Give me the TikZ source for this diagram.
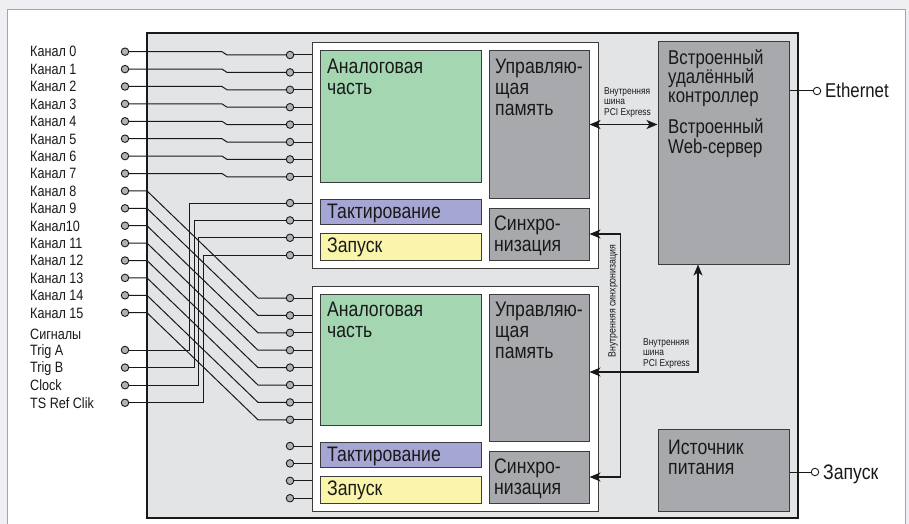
\documentclass[tikz,border=0pt]{standalone}
\usepackage{fontspec}
\setmainfont[FakeStretch=0.84]{Liberation Sans}
\usetikzlibrary{arrows.meta, positioning, calc, fit}

\definecolor{pagebg}{RGB}{238,238,243}
\definecolor{boardbg}{RGB}{227,228,230}
\definecolor{inkc}{RGB}{25,25,25}
\definecolor{analogc}{RGB}{163,214,177}
\definecolor{memc}{RGB}{168,169,172}
\definecolor{clkc}{RGB}{166,166,212}
\definecolor{trigc}{RGB}{250,245,170}
\definecolor{jackc}{RGB}{178,178,182}

\tikzset{
  jack/.style={circle, draw=inkc, fill=jackc, line width=0.9pt, minimum size=7.5pt, inner sep=0pt},
  wire/.style={draw=inkc, line width=1pt},
  blk/.style={draw=inkc!85, line width=1pt, inner sep=0pt},
  bus/.style={draw=inkc, line width=1.4pt, >={Stealth[length=11pt,width=9pt,inset=3pt]}, <->},
  chlbl/.style={anchor=base west, inner sep=0pt, text=inkc, font=\fontsize{15}{16}\selectfont},
  boxtxt/.style={anchor=north west, inner sep=0pt, align=left, text=inkc, font=\fontsize{21}{21}\selectfont},
  smalltxt/.style={anchor=north west, inner sep=0pt, align=left, text=inkc, font=\fontsize{10}{10.7}\selectfont},
}

\begin{document}
\begin{tikzpicture}[x=1pt, y=-1pt]
  \useasboundingbox (0,0) rectangle (909,524);
  \fill[pagebg] (0,0) rectangle (909,524);
  \fill[white] (7,10) rectangle (905,524);
  \draw[gray!70, line width=1pt] (7,524) -- (7,10) -- (905,10) -- (905,524);

  \node[fit={(147,33) (798,518)}, draw=inkc, fill=boardbg, line width=1.2pt, inner sep=0pt] (board) {};

  \foreach \m/\o in {1/0, 2/243} {
    \node[blk, fill=white, fit={(312,43+\o) (598,268+\o)}] (mod\m) {};
    \node[blk, fill=analogc, fit={(320,51+\o) (481,182+\o)}] (an\m) {};
    \node[boxtxt] (ant\m) at (327,59+\o) {Аналоговая\\часть};
    \node[blk, fill=memc, fit={(489,51+\o) (589,198+\o)}] (mem\m) {};
    \node[boxtxt] (memt\m) at (495,59+\o) {Управляю-\\щая\\память};
    \node[blk, fill=clkc, fit={(320,199+\o) (481,224+\o)}] (clk\m) {};
    \node[boxtxt] (clkt\m) at (327,204+\o) {Тактирование};
    \node[blk, fill=trigc, fit={(320,233+\o) (481,260+\o)}] (trg\m) {};
    \node[boxtxt] (trgt\m) at (327,238+\o) {Запуск};
    \node[blk, fill=memc, fit={(489,208+\o) (589,260+\o)}] (syn\m) {};
    \node[boxtxt] (synt\m) at (494,216+\o) {Синхро-\\низация};
    \foreach \y [count=\k from 0] in {55,72.4,89.8,107.2,124.6,142,159.4,176.8,203,220.4,237.8,255.2} {
      \node[jack] (m\m p\k) at (290,\y+\o) {};
      \draw[wire] (m\m p\k) -- (m\m p\k -| mod\m.west);
    }
  }

  \foreach \t [count=\i from 0] in {Канал 0, Канал 1, Канал 2, Канал 3, Канал 4, Канал 5, Канал 6, Канал 7, Канал 8, Канал 9, Канал10, Канал 11, Канал 12, Канал 13, Канал 14, Канал 15} {
    \node[jack] (ch\i) at (125,51.7+17.4*\i) {};
    \node[chlbl] (chl\i) at (30,57+17.4*\i) {\t};
  }
  \node[chlbl] (sigl) at (30,339.3) {Сигналы};
  \foreach \t/\n [count=\k from 0] in {Trig A/sa, Trig B/sb, Clock/sc, TS Ref Clik/sd} {
    \node[jack] (\n) at (125,350+17.6*\k) {};
    \node[chlbl] (\n l) at (30,355.3+17.6*\k) {\t};
  }

  \foreach \i in {0,...,7} {
    \draw[wire] (ch\i) -- ($(ch\i)+(97,0)$) -- ($(m1p\i)+(-63,0)$) -- (m1p\i);
  }
  \foreach \i [evaluate=\i as \j using int(\i-8)] in {8,...,15} {
    \draw[wire] (ch\i) -- ($(ch\i)+(22,0)$) -- ($(m2p\j)+(-32,0)$) -- (m2p\j);
  }
  \foreach \n/\x/\y/\j in {sa/189/203/8, sb/194/220.4/9, sc/198.5/237.8/10, sd/203/255.2/11} {
    \draw[wire] (\n) -| (\x,\y) -- (m1p\j);
  }

  \node[blk, fill=memc, fit={(658,42) (789,264)}] (ctrl) {};
  \node[boxtxt, font=\fontsize{20}{19}\selectfont] (ctrlt) at (668,49) {Встроенный\\удалённый\\контроллер};
  \node[boxtxt, font=\fontsize{20}{20}\selectfont] (webt) at (668,118) {Встроенный\\Web-сервер};
  \node[blk, fill=memc, fit={(658,429) (789,511)}] (psu) {};
  \node[boxtxt, font=\fontsize{21}{20}\selectfont] (psut) at (668,440) {Источник\\питания};

  \node[jack, fill=white] (eth) at (817,91) {};
  \draw[wire] (ctrl.east |- eth) -- (eth);
  \node[anchor=base west, inner sep=0pt, text=inkc, font=\fontsize{20}{20}\selectfont] (etht) at (825,98) {Ethernet};
  \node[jack, fill=white] (pwr) at (815,472) {};
  \draw[wire] (psu.east |- pwr) -- (pwr);
  \node[anchor=base west, inner sep=0pt, text=inkc, font=\fontsize{21}{21}\selectfont] (pwrt) at (823,479.5) {Запуск};

  \draw[bus] (mem1.east) -- (mem1.east -| ctrl.west);
  \node[smalltxt] (pci1) at (604,87) {Внутренняя\\шина\\PCI Express};
  \draw[bus] (syn1.east) -| ([xshift=31pt]syn2.east) -- (syn2.east);
  \node[rotate=90, inner sep=0pt, text=inkc, font=\fontsize{10.5}{11}\selectfont] (synl) at (613,301) {Внутренняя синхронизация};
  \coordinate (pcib) at (698,372);
  \draw[bus] (pcib |- ctrl.south) -- (pcib) -- (pcib -| mem2.east);
  \node[smalltxt] (pci2) at (643,338) {Внутренняя\\шина\\PCI Express};
\end{tikzpicture}
\end{document}
